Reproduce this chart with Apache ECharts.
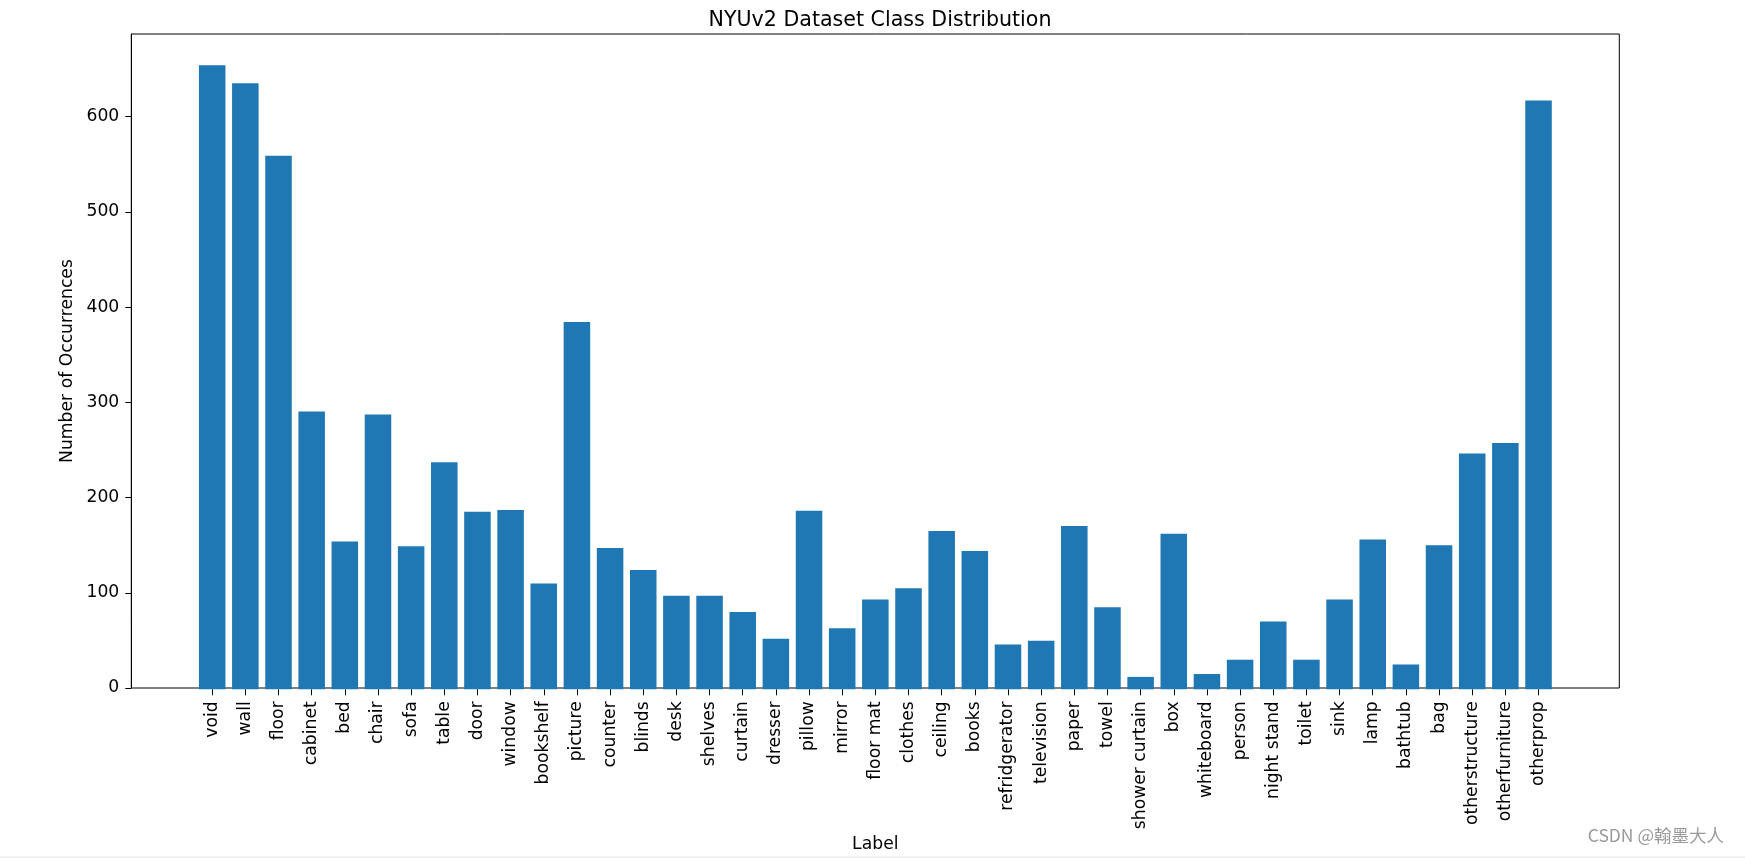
<!DOCTYPE html>
<html>
<head>
<meta charset="utf-8">
<script src="https://cdn.jsdelivr.net/npm/echarts@6/dist/echarts.min.js"></script>
<style>
html,body{margin:0;padding:0;background:#fff;}
#chart{width:1745px;height:858px;}
</style>
</head>
<body>
<div id="chart"></div>
<script>
const categories = ['void','wall','floor','cabinet','bed','chair','sofa','table','door','window','bookshelf','picture','counter','blinds','desk','shelves','curtain','dresser','pillow','mirror','floor mat','clothes','ceiling','books','refridgerator','television','paper','towel','shower curtain','box','whiteboard','person','night stand','toilet','sink','lamp','bathtub','bag','otherstructure','otherfurniture','otherprop'];
const counts = [654,635,559,291,155,288,150,238,186,188,111,385,148,125,98,98,81,53,187,64,94,106,166,145,47,51,171,86,13,163,16,31,71,31,94,157,26,151,247,258,617];
const yTicks = [0,100,200,300,400,500,600];
const yMax = 686.7;

const font = 'DejaVu Sans';
const fs = 17.2;
const chart = echarts.init(document.getElementById('chart'));
chart.setOption({
  animation: false,
  backgroundColor: '#fff',
  textStyle: {fontFamily: font},
  title: [
    {text: 'NYUv2 Dataset Class Distribution', left: 875, top: 5, textAlign: 'center',
     textStyle: {fontFamily: font, fontSize: 20.6, fontWeight: 'normal', color: '#000'}},
    {text: 'CSDN @翰墨大人', right: 16, bottom: 9,
     textStyle: {fontFamily: 'Noto Sans CJK SC', fontSize: 17.5, fontWeight: 'normal', color: '#9a9a9a'}}
  ],
  graphic: [{type: 'rect', left: 0, bottom: 0, shape: {width: 1745, height: 1.5}, style: {fill: '#ececec'}, silent: true}],
  grid: [
    {left: 131.3, right: 125.7, top: 34, bottom: 168.7, show: true, borderColor: '#000', borderWidth: 1, backgroundColor: 'transparent'},
    {left: 195.6, right: 189.9, top: 34, bottom: 168.7}
  ],
  xAxis: [
    {type: 'value', gridIndex: 0, min: 0, max: 1,
     axisLine: {show: false}, axisTick: {show: false}, axisLabel: {show: false}, splitLine: {show: false},
     name: 'Label', nameLocation: 'middle', nameGap: 148,
     nameTextStyle: {fontFamily: font, fontSize: fs, color: '#000'}},
    {type: 'category', gridIndex: 1, data: categories,
     axisLine: {show: false},
     axisTick: {show: true, alignWithLabel: true, length: 6, lineStyle: {color: '#000', width: 1}},
     axisLabel: {interval: 0, rotate: 90, margin: 12, fontFamily: font, fontSize: fs, color: '#000'},
     splitLine: {show: false}}
  ],
  yAxis: [
    {type: 'value', gridIndex: 0, min: 0, max: yMax,
     axisLine: {show: true, lineStyle: {color: '#000', width: 1}},
     axisTick: {show: true, length: 6, lineStyle: {color: '#000', width: 1}, customValues: yTicks},
     axisLabel: {margin: 12, fontFamily: font, fontSize: fs, color: '#000', customValues: yTicks},
     splitLine: {show: false},
     name: 'Number of Occurrences', nameLocation: 'middle', nameGap: 55, nameRotate: 90,
     nameTextStyle: {fontFamily: font, fontSize: fs, color: '#000'}},
    {type: 'value', gridIndex: 1, min: 0, max: yMax, show: false, splitLine: {show: false}}
  ],
  series: [{
    type: 'bar', xAxisIndex: 1, yAxisIndex: 1, data: counts,
    barWidth: '80%', itemStyle: {color: '#1f77b4'}
  }]
});
</script>
</body>
</html>
